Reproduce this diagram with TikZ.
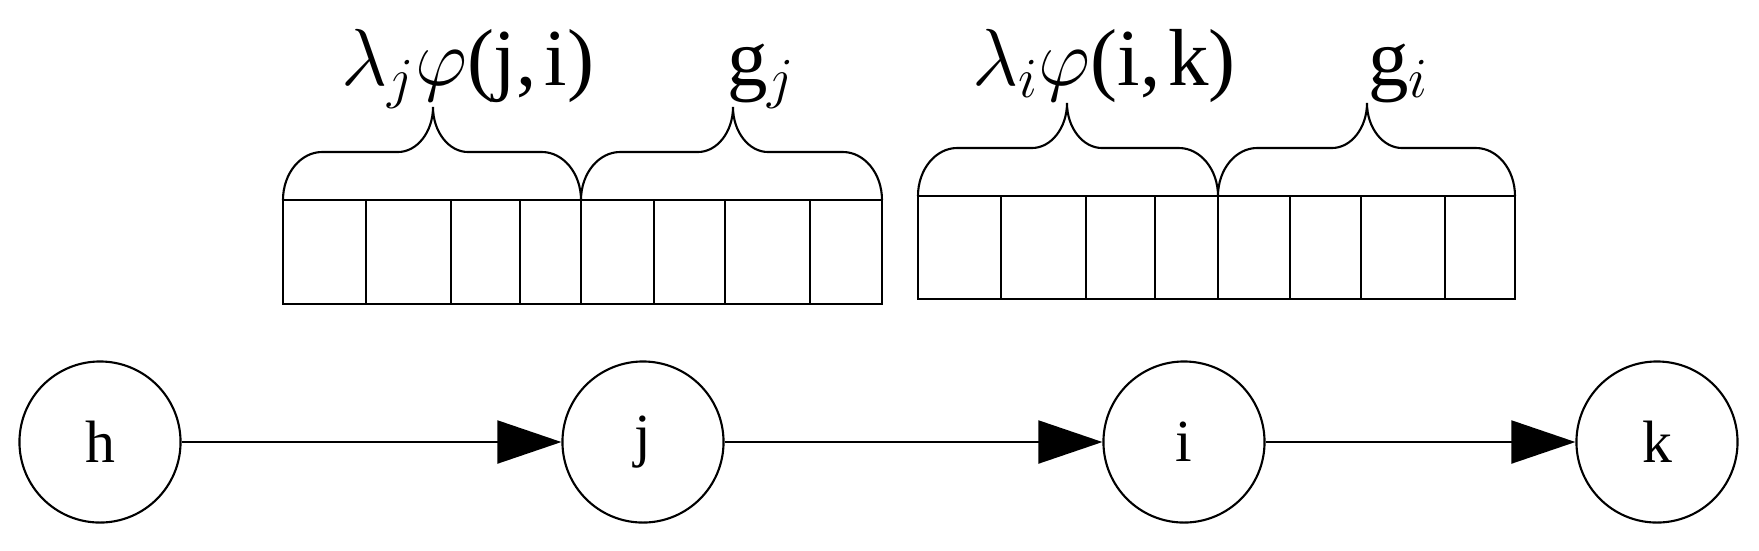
\documentclass[tikz,border=0pt]{standalone}
\usepackage{fix-cm}
\usepackage{fontspec}
\setmainfont{Liberation Serif}
\usetikzlibrary{arrows.meta}
\tikzset{
  state/.style={draw,circle,minimum size=1.61cm,inner sep=0pt,font=\fontsize{17}{20}\selectfont},
  lbl/.style={anchor=base west,inner sep=0pt,font=\fontsize{23}{27}\selectfont},
  flow/.style={-{Triangle[length=6.4mm,width=4.3mm]}},
}
\begin{document}
\begin{tikzpicture}[x=0.01cm,y=-0.01cm,line width=0.6pt]
\useasboundingbox (0,0) rectangle (1759,550);
\node[state] (h) at (100,442) {h};
\node[state] (j) at (643,442) {j};
\node[state] (i) at (1184,442) {i};
\node[state] (k) at (1657,442) {k};
\draw[flow] (h) -- (j);
\draw[flow] (j) -- (i);
\draw[flow] (i) -- (k);
% cells
\draw (283,200) rectangle (882,304);
\foreach \x in {366,451,520,581,654,725,810}
  \draw (\x,200) -- (\x,304);
\draw (918,196) rectangle (1515,299);
\foreach \x in {1001,1086,1155,1218,1290,1361,1445}
  \draw (\x,196) -- (\x,299);
% braces
\foreach \a/\b/\c/\y in {283/433/581/200,581/733/882/200,918/1067/1218/196,1218/1367/1515/196}{
  \draw (\a,\y) .. controls (\a,\y-27) and (\a+18,\y-48) .. (\a+39,\y-48)
    -- (\b-35,\y-48) .. controls (\b-16,\y-48) and (\b,\y-68) .. (\b,\y-93)
    .. controls (\b,\y-68) and (\b+16,\y-48) .. (\b+35,\y-48)
    -- (\c-39,\y-48) .. controls (\c-18,\y-48) and (\c,\y-27) .. (\c,\y);
}
\node[lbl] (phiji) at (340,85) {$\lambda_{j}\varphi$(j,\kern0.1em i)};
\node[lbl] (gj) at (726,85) {g$_{j}$};
\node[lbl] (phiik) at (971,85) {$\lambda_{i}\varphi$(i,\kern0.1em k)};
\node[lbl] (gi) at (1367,85) {g$_{i}$};
\end{tikzpicture}
\end{document}
